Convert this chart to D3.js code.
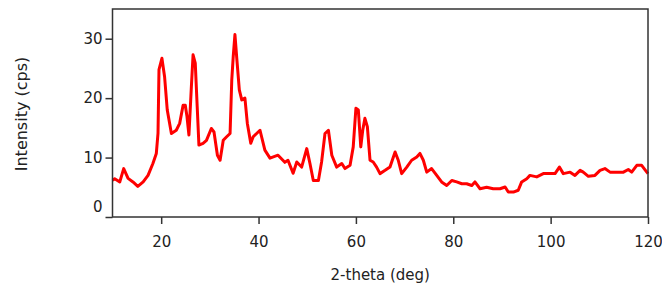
<!DOCTYPE html>
<html>
<head>
<meta charset="utf-8">
<script src="https://cdn.jsdelivr.net/npm/d3@7"></script>
<style>
  body { margin: 0; background: #fff; }
  text { font-family: "DejaVu Sans", sans-serif; fill: #222; }
</style>
</head>
<body>
<div id="d3id"></div>
<script>
var twoTheta = [10.0, 10.45, 11.5, 12.3, 13.2, 14.2, 15.2, 16.3, 17.3, 18.3,
  19.0, 19.35, 19.55, 20.15, 20.7, 21.25, 22.1, 23.1, 23.8, 24.5,
  24.95, 25.3, 25.7, 26.2, 26.55, 27.0, 27.4, 27.75, 28.6, 29.3,
  30.3, 30.85, 31.55, 32.1, 32.75, 33.45, 34.15, 34.5, 34.8, 35.15,
  35.5, 36.05, 36.55, 37.2, 37.7, 38.4, 38.9, 40.3, 41.3, 42.35,
  44.0, 45.4, 46.05, 47.1, 47.85, 48.85, 49.9, 50.55, 51.25, 52.3,
  52.95, 53.65, 54.35, 55.05, 56.05, 57.1, 57.75, 58.8, 59.45, 60.0,
  60.5, 61.0, 61.4, 61.85, 62.35, 62.9, 63.55, 64.25, 64.95, 66.0,
  67.0, 68.05, 68.7, 69.4, 70.45, 71.45, 72.5, 73.15, 73.85, 74.55,
  75.55, 76.6, 77.6, 78.65, 79.7, 80.7, 81.75, 82.75, 83.8, 84.45,
  85.5, 86.85, 88.2, 89.6, 90.65, 91.3, 92.35, 93.35, 94.05, 95.1,
  95.75, 97.15, 98.5, 99.85, 100.9, 101.8, 102.6, 104.0, 105.0, 106.05,
  106.7, 107.75, 109.1, 110.15, 111.15, 112.2, 113.55, 114.95, 115.95, 116.65,
  117.7, 118.7, 119.75, 120.0]

var intensity = [6.2, 6.45, 5.9, 8.15, 6.5, 5.9, 5.15, 5.9, 7.0, 9.0,
  10.7, 14.1, 24.8, 26.7, 23.6, 18.0, 14.05, 14.6, 15.75, 18.8,
  18.8, 16.9, 13.8, 21.9, 27.3, 25.9, 18.55, 12.1, 12.4, 12.9,
  14.9, 14.3, 10.4, 9.55, 12.9, 13.5, 14.05, 23.05, 27.0, 30.7,
  27.0, 21.4, 19.7, 20.0, 15.75, 12.4, 13.5, 14.6, 11.25, 9.9,
  10.4, 9.2, 9.55, 7.35, 9.25, 8.4, 11.5, 9.05, 6.15, 6.15,
  9.25, 14.05, 14.6, 10.4, 8.4, 9.0, 8.15, 8.7, 11.8, 18.3,
  18.0, 11.8, 14.6, 16.6, 15.2, 9.55, 9.25, 8.4, 7.3, 7.85,
  8.4, 10.95, 9.55, 7.3, 8.4, 9.55, 10.1, 10.7, 9.55, 7.55,
  8.15, 7.0, 5.9, 5.3, 6.15, 5.9, 5.6, 5.6, 5.3, 5.9,
  4.75, 5.0, 4.75, 4.75, 5.05, 4.2, 4.2, 4.5, 5.9, 6.45,
  7.0, 6.75, 7.3, 7.3, 7.3, 8.4, 7.3, 7.55, 7.0, 7.85,
  7.55, 6.85, 7.0, 7.85, 8.15, 7.55, 7.55, 7.55, 8.0, 7.55,
  8.7, 8.7, 7.55, 7.3]

var xTicks = [20, 40, 60, 80, 100, 120]
var yTicks = [0, 10, 20, 30]

var width = 662, height = 284
var plot = { left: 112.5, right: 648, top: 9, bottom: 217 }

var svg = d3.select("#d3id")
  .append("svg")
  .attr("width", width)
  .attr("height", height)

var x = d3.scaleLinear()
  .domain([10, 120])
  .range([plot.left, plot.right])

var y = d3.scaleLinear()
  .domain([0, 35])
  .range([plot.bottom, plot.top])

var data = twoTheta.map(function (d, i) { return { t: d, v: intensity[i] } })

// curve
svg.append("path")
  .datum(data)
  .attr("fill", "none")
  .attr("stroke", "#ff0000")
  .attr("stroke-width", 3)
  .attr("stroke-linejoin", "round")
  .attr("d", d3.line()
    .x(function (d) { return x(d.t) })
    .y(function (d) { return y(d.v) }))

// frame
svg.append("rect")
  .attr("x", plot.left)
  .attr("y", plot.top)
  .attr("width", plot.right - plot.left)
  .attr("height", plot.bottom - plot.top)
  .attr("fill", "none")
  .attr("stroke", "#333")
  .attr("stroke-width", 1.5)

var gx = svg.append("g")
  .attr("transform", "translate(0," + plot.bottom + ")")
  .call(d3.axisBottom(x).tickValues(xTicks).tickSize(7).tickPadding(12))
gx.select(".domain").remove()

var gy = svg.append("g")
  .attr("transform", "translate(" + plot.left + ",0)")
  .call(d3.axisLeft(y).tickValues(yTicks).tickSize(7).tickPadding(3))
gy.select(".domain").remove()

svg.selectAll(".tick line")
  .attr("stroke", "#333")
  .attr("stroke-width", 1.5)

svg.selectAll(".tick text")
  .attr("font-family", "DejaVu Sans, sans-serif")
  .attr("font-size", 15)
  .attr("fill", "#222")

// zero label sits above the axis line
gy.selectAll(".tick text")
  .filter(function (d) { return d === 0 })
  .attr("y", -10)

svg.append("text")
  .attr("x", (plot.left + plot.right) / 2)
  .attr("y", 280)
  .attr("text-anchor", "middle")
  .attr("font-size", 15)
  .text("2-theta (deg)")

svg.append("text")
  .attr("transform", "translate(27," + 114 + ") rotate(-90)")
  .attr("text-anchor", "middle")
  .attr("font-size", 16)
  .text("Intensity (cps)")
</script>
</body>
</html>
